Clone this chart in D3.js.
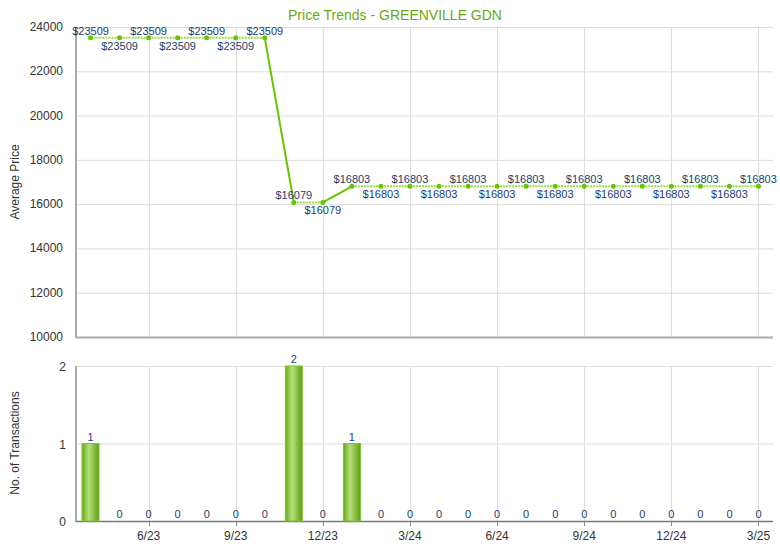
<!DOCTYPE html>
<html><head><meta charset="utf-8">
<script src="https://cdn.jsdelivr.net/npm/d3@7"></script>
<style>body{margin:0;background:#fff;font-family:Arial,"Liberation Sans",sans-serif}</style>
</head><body>
<svg id="c" width="780" height="550"></svg>
<script>
const months = ["4/23","5/23","6/23","7/23","8/23","9/23","10/23","11/23","12/23","1/24","2/24","3/24","4/24","5/24","6/24","7/24","8/24","9/24","10/24","11/24","12/24","1/25","2/25","3/25"];
const prices = [23509,23509,23509,23509,23509,23509,23509,16079,16079,16803,16803,16803,16803,16803,16803,16803,16803,16803,16803,16803,16803,16803,16803,16803];
const transactions = [1,0,0,0,0,0,0,2,0,1,0,0,0,0,0,0,0,0,0,0,0,0,0,0];
const tickMonths = ["6/23","9/23","12/23","3/24","6/24","9/24","12/24","3/25"];
const priceTicks = [10000,12000,14000,16000,18000,20000,22000,24000];
const countTicks = [0,1,2];
const title = "Price Trends - GREENVILLE GDN";

const svg = d3.select("#c");
const L = 76, R = 773;
const x = d3.scaleBand().domain(months).range([L, R]).padding(0);
const cx = m => x(m) + x.bandwidth()/2;
const yP = d3.scaleLinear().domain([10000,24000]).range([337,27]);
const yC = d3.scaleLinear().domain([0,2]).range([521,366]);

const defs = svg.append("defs");
const g = defs.append("linearGradient").attr("id","bg").attr("x1","0").attr("x2","1").attr("y1","0").attr("y2","0");
g.append("stop").attr("offset","0").attr("stop-color","#6aaa1c");
g.append("stop").attr("offset","0.4").attr("stop-color","#b4e07a");
g.append("stop").attr("offset","1").attr("stop-color","#5e9e14");

// title
svg.append("text").attr("x",395).attr("y",20).attr("text-anchor","middle")
  .attr("font-size",14).attr("fill","#66aa11").text(title);

// gridlines
const grid = svg.append("g").attr("stroke","#dcdcdc").attr("stroke-width",1);
priceTicks.forEach(v => grid.append("line").attr("x1",L).attr("x2",R).attr("y1",yP(v)+0.5).attr("y2",yP(v)+0.5));
countTicks.forEach(v => grid.append("line").attr("x1",L).attr("x2",R).attr("y1",yC(v)+0.5).attr("y2",yC(v)+0.5));
tickMonths.forEach(m => {
  grid.append("line").attr("x1",Math.round(cx(m))+0.5).attr("x2",Math.round(cx(m))+0.5).attr("y1",27).attr("y2",337);
  grid.append("line").attr("x1",Math.round(cx(m))+0.5).attr("x2",Math.round(cx(m))+0.5).attr("y1",366).attr("y2",521);
});

// axes lines
svg.append("line").attr("x1",L).attr("x2",L).attr("y1",27).attr("y2",338).attr("stroke","#aaa").attr("stroke-width",2);
svg.append("line").attr("x1",L).attr("x2",R).attr("y1",337.5).attr("y2",337.5).attr("stroke","#aaa").attr("stroke-width",2);
svg.append("line").attr("x1",L).attr("x2",L).attr("y1",366).attr("y2",522).attr("stroke","#aaa").attr("stroke-width",2);
svg.append("line").attr("x1",L).attr("x2",R).attr("y1",521.5).attr("y2",521.5).attr("stroke","#777").attr("stroke-width",1.5);

// axis tick labels
const tf = {size:12, fill:"#333"};
priceTicks.forEach(v => svg.append("text").attr("x",63).attr("y",yP(v)+4).attr("text-anchor","end")
  .attr("font-size",tf.size).attr("fill",tf.fill).text(v));
countTicks.forEach(v => svg.append("text").attr("x",66).attr("y",yC(v)+5).attr("text-anchor","end")
  .attr("font-size",tf.size).attr("fill",tf.fill).text(v));
tickMonths.forEach(m => {
  svg.append("line").attr("x1",Math.round(cx(m))+0.5).attr("x2",Math.round(cx(m))+0.5).attr("y1",521).attr("y2",526).attr("stroke","#888");
  svg.append("text").attr("x",cx(m)).attr("y",540).attr("text-anchor","middle")
    .attr("font-size",tf.size).attr("fill",tf.fill).text(m);
});
svg.append("text").attr("transform","translate(19,182) rotate(-90)").attr("text-anchor","middle")
  .attr("font-size",12).attr("fill","#333").text("Average Price");
svg.append("text").attr("transform","translate(19,443) rotate(-90)").attr("text-anchor","middle")
  .attr("font-size",12).attr("fill","#333").text("No. of Transactions");

// price line segments
for (let i = 1; i < months.length; i++) {
  const solid = transactions[i] > 0;
  svg.append("line").attr("x1",cx(months[i-1])).attr("y1",yP(prices[i-1]))
    .attr("x2",cx(months[i])).attr("y2",yP(prices[i]))
    .attr("stroke", solid ? "#66c400" : "#99dd44").attr("stroke-width",2)
    .attr("stroke-dasharray", solid ? null : "2,1");
}
months.forEach((m,i) => {
  svg.append("circle").attr("cx",cx(m)).attr("cy",yP(prices[i])).attr("r",2.5).attr("fill","#66c400");
  const above = i < 7 ? i % 2 === 0 : i % 2 === 1;
  svg.append("text").attr("x",cx(m)).attr("y",yP(prices[i]) + (above ? -3 : 12)).attr("text-anchor","middle")
    .attr("font-size",11).attr("fill","#1a3d6e").text("$" + prices[i]);
});

// bars
const bw = 17;
months.forEach((m,i) => {
  if (transactions[i] > 0) {
    svg.append("rect").attr("x",cx(m)-bw/2).attr("y",yC(transactions[i]))
      .attr("width",bw).attr("height",yC(0)-yC(transactions[i]))
      .attr("fill","url(#bg)").attr("stroke","#7cc42a").attr("stroke-width",1);
  }
  svg.append("text").attr("x",cx(m)).attr("y",yC(transactions[i])-3).attr("text-anchor","middle")
    .attr("font-size",11).attr("fill","#1a3d6e").text(transactions[i]);
});
</script>
</body></html>
